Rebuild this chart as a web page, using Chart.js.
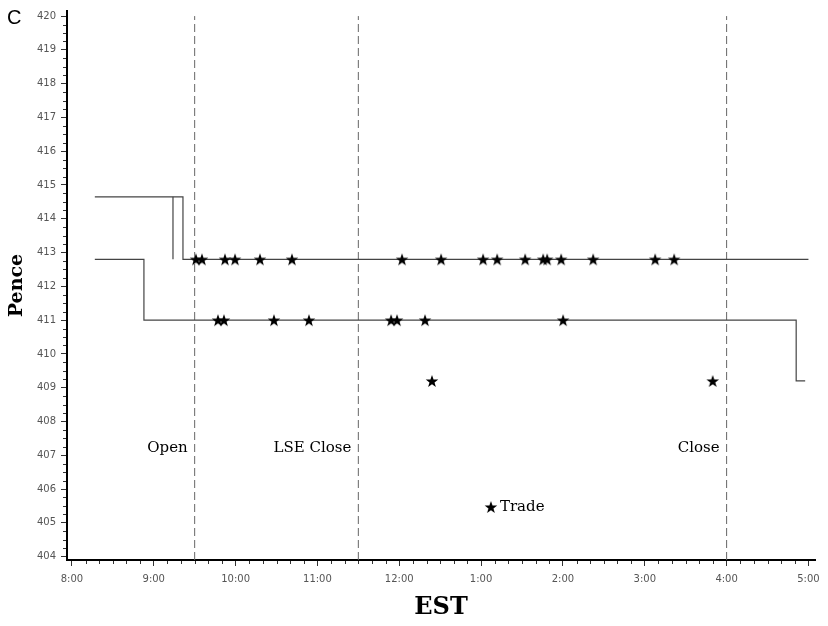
<!DOCTYPE html>
<html>
<head>
<meta charset="utf-8">
<script src="https://cdn.jsdelivr.net/npm/chart.js@4.4.1/dist/chart.umd.min.js"></script>
<style>
  html, body { margin: 0; padding: 0; background: #fff; }
  #wrap { width: 828px; height: 626px; position: relative; }
</style>
</head>
<body>
<div id="wrap"><canvas id="chart" width="828" height="626"></canvas></div>
<script>
// time in hours (EST, 24h), price in pence
const askTimes = [8.28, 9.357, 17.0];
const askPrices = [414.65, 412.8, 412.8];
const bidTimes = [8.28, 8.88, 16.85, 16.96];
const bidPrices = [412.8, 411.0, 409.2, 409.2];
const otherQuoteTimes = [9.235, 9.235];
const otherQuotePrices = [414.65, 412.8];

const tradeTimesHigh = [9.516, 9.589, 9.870, 9.993, 10.298, 10.689, 12.034, 12.511, 13.024,
  13.196, 13.538, 13.758, 13.807, 13.978, 14.369, 15.127, 15.359];
const tradeTimesMid = [9.785, 9.858, 10.469, 10.897, 11.900, 11.973, 12.315, 14.002];
const tradeTimesLow = [12.40, 15.83];
const tradeLevels = [412.8, 411.0, 409.2];

const eventTimes = [9.5, 11.5, 16.0];
const eventLabels = ["Open", "LSE Close", "Close"];

const hourTicks = [8, 9, 10, 11, 12, 13, 14, 15, 16, 17];
const priceTicks = [404, 405, 406, 407, 408, 409, 410, 411, 412, 413, 414, 415, 416, 417, 418, 419, 420];

const xMin = 7.94, xMax = 17.08;
const yMin = 403.9, yMax = 420.15;

// filled star marker
function makeStar(r) {
  const c = document.createElement("canvas");
  const s = Math.ceil(r * 2 + 2);
  c.width = s; c.height = s;
  const g = c.getContext("2d");
  g.beginPath();
  for (let i = 0; i < 10; i++) {
    const rad = i % 2 === 0 ? r : r * 0.4;
    const a = -Math.PI / 2 + i * Math.PI / 5;
    const px = s / 2 + rad * Math.cos(a);
    const py = s / 2 + rad * Math.sin(a) + 0.6;
    if (i === 0) g.moveTo(px, py); else g.lineTo(px, py);
  }
  g.closePath();
  g.fillStyle = "#000";
  g.fill();
  return c;
}
const star = makeStar(6.6);

function pts(xs, ys) {
  return xs.map((x, i) => ({ x: x, y: ys[i] }));
}

const trades = []
  .concat(tradeTimesHigh.map(t => ({ x: t, y: tradeLevels[0] })))
  .concat(tradeTimesMid.map(t => ({ x: t, y: tradeLevels[1] })))
  .concat(tradeTimesLow.map(t => ({ x: t, y: tradeLevels[2] })));

const datasets = [
  {
    data: trades, showLine: false, pointStyle: star, pointRadius: 7
  },
  {
    data: pts(askTimes, askPrices), stepped: "before",
    borderColor: "#444", borderWidth: 1.2, pointRadius: 0
  },
  {
    data: pts(bidTimes, bidPrices), stepped: "before",
    borderColor: "#444", borderWidth: 1.2, pointRadius: 0
  },
  {
    data: pts(otherQuoteTimes, otherQuotePrices),
    borderColor: "#444", borderWidth: 1.2, pointRadius: 0
  }
];
eventTimes.forEach(t => {
  datasets.push({
    data: [{ x: t, y: yMin }, { x: t, y: 420 }],
    borderColor: "#666", borderWidth: 1, borderDash: [8, 4], pointRadius: 0
  });
});

function hourLabel(h) {
  const hh = h > 12 ? h - 12 : h;
  return hh + ":00";
}

// minor ticks, event labels, legend, panel letter
const extras = {
  id: "extras",
  afterDraw(chart) {
    const ctx = chart.ctx;
    const xs = chart.scales.x, ys = chart.scales.y;
    const area = chart.chartArea;
    ctx.save();
    ctx.strokeStyle = "#333";
    ctx.lineWidth = 1;
    ctx.beginPath();
    for (let m = 8 * 6; m <= 17 * 6; m++) {
      if (m % 6 === 0) continue;
      const px = Math.round(xs.getPixelForValue(m / 6)) + 0.5;
      ctx.moveTo(px, area.bottom + 1);
      ctx.lineTo(px, area.bottom + 4);
    }
    for (let q = 404 * 4; q <= 420 * 4; q++) {
      if (q % 4 === 0) continue;
      const py = Math.round(ys.getPixelForValue(q / 4)) + 0.5;
      ctx.moveTo(area.left - 4, py);
      ctx.lineTo(area.left - 1, py);
    }
    ctx.stroke();

    ctx.fillStyle = "#000";
    ctx.font = "15px 'DejaVu Serif'";
    ctx.textAlign = "right";
    ctx.textBaseline = "middle";
    eventTimes.forEach((t, i) => {
      ctx.fillText(eventLabels[i], xs.getPixelForValue(t) - 7, ys.getPixelForValue(407.2));
    });

    const lx = xs.getPixelForValue(13.12), ly = ys.getPixelForValue(405.47);
    ctx.drawImage(star, lx - star.width / 2, ly - star.height / 2);
    ctx.textAlign = "left";
    ctx.fillText("Trade", lx + 9, ly);

    ctx.font = "20px 'Liberation Sans'";
    ctx.textBaseline = "alphabetic";
    ctx.fillText("C", 7, 24);
    ctx.restore();
  }
};

Chart.defaults.font.family = "'DejaVu Sans'";

new Chart(document.getElementById("chart"), {
  type: "line",
  data: { datasets: datasets },
  options: {
    responsive: false,
    animation: false,
    events: [],
    layout: { padding: { top: 8, right: 13, left: 0, bottom: 0 } },
    plugins: { legend: { display: false }, tooltip: { enabled: false } },
    scales: {
      x: {
        type: "linear", min: xMin, max: xMax,
        afterBuildTicks: s => { s.ticks = hourTicks.map(v => ({ value: v })); },
        afterFit: s => { s.height = 66; },
        ticks: {
          callback: v => hourLabel(v),
          font: { size: 10 }, color: "#555", padding: 7, maxRotation: 0, autoSkip: false
        },
        grid: { drawOnChartArea: false, tickLength: 6, tickColor: "#333" },
        border: { color: "#000", width: 2 },
        title: {
          display: true, text: "EST", color: "#000",
          font: { family: "'DejaVu Serif'", size: 24, weight: "bold" },
          padding: { top: 0, bottom: 4 }
        }
      },
      y: {
        type: "linear", min: yMin, max: yMax,
        afterBuildTicks: s => { s.ticks = priceTicks.map(v => ({ value: v })); },
        afterFit: s => { s.width = 67; },
        ticks: { font: { size: 10 }, color: "#555", padding: 5, autoSkip: false },
        grid: { drawOnChartArea: false, tickLength: 6, tickColor: "#333" },
        border: { color: "#000", width: 2 },
        title: {
          display: true, text: "Pence", color: "#000",
          font: { family: "'DejaVu Serif'", size: 19, weight: "bold" },
          padding: { top: 6, bottom: 0 }
        }
      }
    }
  },
  plugins: [extras]
});
</script>
</body>
</html>
